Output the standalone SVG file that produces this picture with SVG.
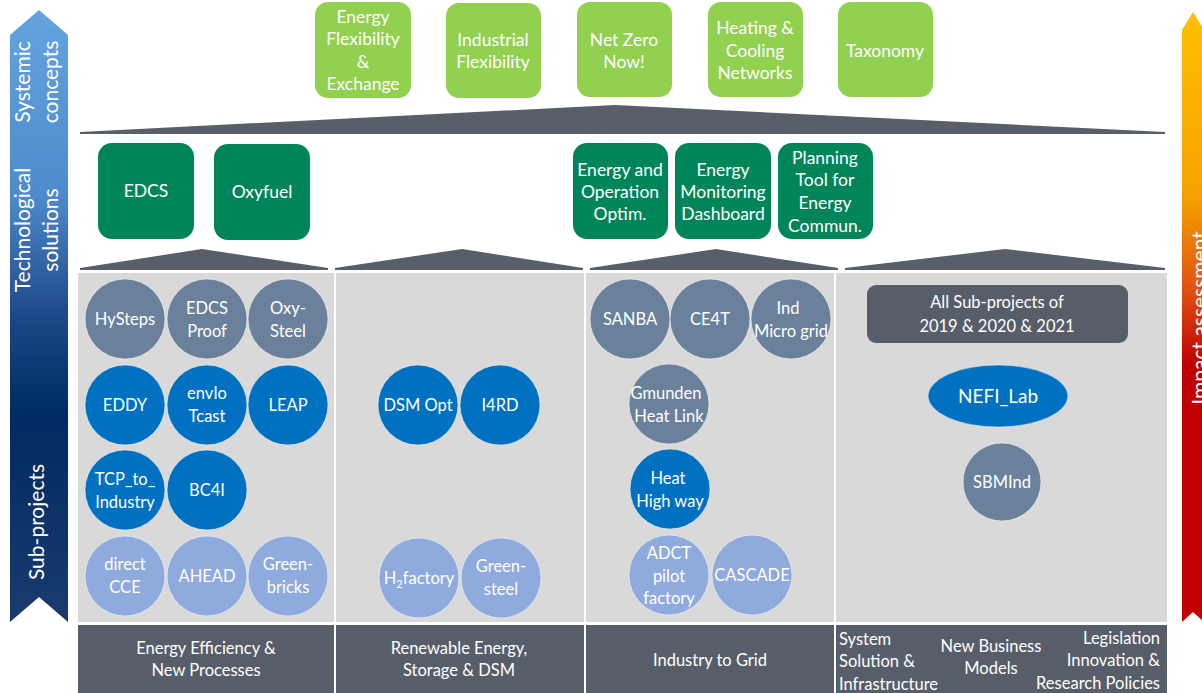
<svg xmlns="http://www.w3.org/2000/svg" width="1202" height="693" viewBox="0 0 1202 693">
  <style>
    text { font-family: Lato, "Liberation Sans", sans-serif; fill: #ffffff; text-anchor: middle; }
    .sys { fill: #92d050; }
    .tech { fill: #00855a; }
    .plat { fill: #585f69; }
    .panel { fill: #d9d9d9; }
    .bar { fill: #575e69; }
    .slate { fill: #6b819b; stroke: #ffffff; stroke-opacity: .5; stroke-width: 1; }
    .blue { fill: #0070c0; stroke: #ffffff; stroke-opacity: .5; stroke-width: 1; }
    .light { fill: #8faadc; stroke: #ffffff; stroke-opacity: .5; stroke-width: 1; }
    .t17 { font-size: 17.5px; }
    .t16 { font-size: 16.5px; }
    .side { font-size: 21px; }
    .l { text-anchor: start; }
    .r { text-anchor: end; }
  </style>
  <defs>
    <linearGradient id="gradLeft" x1="0" y1="0" x2="0" y2="1">
      <stop offset="0" stop-color="#63a4dd"/>
      <stop offset="0.3" stop-color="#4f8bcb"/>
      <stop offset="0.5" stop-color="#1d4889"/>
      <stop offset="0.66" stop-color="#002a62"/>
      <stop offset="1" stop-color="#1a3b6e"/>
    </linearGradient>
    <linearGradient id="gradRight" x1="0" y1="0" x2="0" y2="1">
      <stop offset="0" stop-color="#ffc000"/>
      <stop offset="0.3" stop-color="#f5a200"/>
      <stop offset="0.45" stop-color="#e05512"/>
      <stop offset="0.58" stop-color="#c00000"/>
      <stop offset="1" stop-color="#c00000"/>
    </linearGradient>
  </defs>

  <rect width="1202" height="693" fill="#ffffff"/>

  <!-- side arrows -->
  <g id="axis-left">
    <path d="M10,35 L39,10 L68,35 L68,622 L39,597 L10,622 Z" fill="url(#gradLeft)"/>
    <text class="side" transform="translate(30,82) rotate(-90)">Systemic</text>
    <text class="side" transform="translate(58,82) rotate(-90)">concepts</text>
    <text class="side" transform="translate(30,230) rotate(-90)">Technological</text>
    <text class="side" transform="translate(58,230) rotate(-90)">solutions</text>
    <text class="side" transform="translate(44,522) rotate(-90)">Sub-projects</text>
  </g>
  <g id="axis-right">
    <path d="M1182,30 L1193,12 L1204,30 L1204,622 L1193,612 L1182,622 Z" fill="url(#gradRight)"/>
    <text class="side" transform="translate(1207,318) rotate(-90)">Impact assessment</text>
  </g>

  <!-- platforms -->
  <g id="platforms">
    <path class="plat" d="M80,134 L80,132 L615,105 L1165,132 L1165,134 Z"/>
    <path class="plat" d="M80,270 L80,268 L202,249 L328,268 L328,270 Z"/>
    <path class="plat" d="M335,270 L335,268 L462,249 L583,268 L583,270 Z"/>
    <path class="plat" d="M590,270 L590,268 L716,249 L838,268 L838,270 Z"/>
    <path class="plat" d="M845,270 L845,268 L1005,249 L1165,268 L1165,270 Z"/>
  </g>

  <!-- column panels -->
  <g id="panels">
    <rect class="panel" x="78" y="273" width="256" height="349"/>
    <rect class="panel" x="336" y="273" width="248" height="349"/>
    <rect class="panel" x="586" y="273" width="248" height="349"/>
    <rect class="panel" x="836" y="273" width="331" height="349"/>
  </g>

  <!-- systemic concepts -->
  <g id="sys-energy-flex">
    <rect class="sys" x="315" y="2" width="96" height="96" rx="13"/>
    <text class="t17" x="363" y="23">Energy</text>
    <text class="t17" x="363" y="45">Flexibility</text>
    <text class="t17" x="363" y="68">&amp;</text>
    <text class="t17" x="363" y="90">Exchange</text>
  </g>
  <g id="sys-industrial-flex">
    <rect class="sys" x="446" y="3" width="95" height="95" rx="13"/>
    <text class="t17" x="493" y="46">Industrial</text>
    <text class="t17" x="493" y="68">Flexibility</text>
  </g>
  <g id="sys-net-zero">
    <rect class="sys" x="577" y="2" width="95" height="95" rx="13"/>
    <text class="t17" x="624" y="46">Net Zero</text>
    <text class="t17" x="624" y="68">Now!</text>
  </g>
  <g id="sys-heating-cooling">
    <rect class="sys" x="708" y="2" width="95" height="95" rx="13"/>
    <text class="t17" x="755" y="34">Heating &amp;</text>
    <text class="t17" x="755" y="57">Cooling</text>
    <text class="t17" x="755" y="79">Networks</text>
  </g>
  <g id="sys-taxonomy">
    <rect class="sys" x="838" y="2" width="95" height="95" rx="13"/>
    <text class="t17" x="885" y="57">Taxonomy</text>
  </g>

  <!-- technological solutions -->
  <g id="tech-edcs">
    <rect class="tech" x="98" y="143" width="96" height="96" rx="14"/>
    <text class="t17" x="146" y="197">EDCS</text>
  </g>
  <g id="tech-oxyfuel">
    <rect class="tech" x="214" y="144" width="96" height="96" rx="14"/>
    <text class="t17" x="262" y="198">Oxyfuel</text>
  </g>
  <g id="tech-energy-operation">
    <rect class="tech" x="573" y="143" width="95" height="96" rx="14"/>
    <text class="t17" x="620" y="176">Energy and</text>
    <text class="t17" x="620" y="198">Operation</text>
    <text class="t17" x="620" y="220">Optim.</text>
  </g>
  <g id="tech-monitoring">
    <rect class="tech" x="675" y="143" width="96" height="96" rx="14"/>
    <text class="t17" x="723" y="176">Energy</text>
    <text class="t17" x="723" y="198">Monitoring</text>
    <text class="t17" x="723" y="220">Dashboard</text>
  </g>
  <g id="tech-planning">
    <rect class="tech" x="778" y="143" width="95" height="96" rx="14"/>
    <text class="t17" x="825" y="164">Planning</text>
    <text class="t17" x="825" y="186">Tool for</text>
    <text class="t17" x="825" y="209">Energy</text>
    <text class="t17" x="825" y="232">Commun.</text>
  </g>

  <!-- sub-projects: energy efficiency & new processes -->
  <g id="sp-hysteps"><circle class="slate" cx="125" cy="319" r="40"/><text class="t16" x="125" y="325">HySteps</text></g>
  <g id="sp-edcs-proof"><circle class="slate" cx="207" cy="319" r="40"/><text class="t16" x="207" y="314">EDCS</text><text class="t16" x="207" y="337">Proof</text></g>
  <g id="sp-oxy-steel"><circle class="slate" cx="288" cy="319" r="40"/><text class="t16" x="288" y="314">Oxy-</text><text class="t16" x="288" y="337">Steel</text></g>
  <g id="sp-eddy"><circle class="blue" cx="125" cy="405" r="40"/><text class="t16" x="125" y="411">EDDY</text></g>
  <g id="sp-enviotcast"><circle class="blue" cx="207" cy="405" r="40"/><text class="t16" x="207" y="399">envIo</text><text class="t16" x="207" y="422">Tcast</text></g>
  <g id="sp-leap"><circle class="blue" cx="288" cy="405" r="40"/><text class="t16" x="288" y="411">LEAP</text></g>
  <g id="sp-tcp"><circle class="blue" cx="125" cy="490" r="40"/><text class="t16" x="125" y="485">TCP_to_</text><text class="t16" x="125" y="508">Industry</text></g>
  <g id="sp-bc4i"><circle class="blue" cx="207" cy="490" r="40"/><text class="t16" x="207" y="496">BC4I</text></g>
  <g id="sp-direct-cce"><circle class="light" cx="125" cy="576" r="40"/><text class="t16" x="125" y="570">direct</text><text class="t16" x="125" y="593">CCE</text></g>
  <g id="sp-ahead"><circle class="light" cx="207" cy="576" r="40"/><text class="t16" x="207" y="582">AHEAD</text></g>
  <g id="sp-greenbricks"><circle class="light" cx="288" cy="576" r="40"/><text class="t16" x="288" y="570">Green-</text><text class="t16" x="288" y="593">bricks</text></g>

  <!-- sub-projects: renewable energy, storage & DSM -->
  <g id="sp-dsm-opt"><circle class="blue" cx="418" cy="405" r="40"/><text class="t16" x="418" y="411">DSM Opt</text></g>
  <g id="sp-i4rd"><circle class="blue" cx="500" cy="405" r="40"/><text class="t16" x="500" y="411">I4RD</text></g>
  <g id="sp-h2factory"><circle class="light" cx="419" cy="578" r="40"/><text class="t16" x="419" y="584">H<tspan font-size="11" dy="4">2</tspan><tspan dy="-4">factory</tspan></text></g>
  <g id="sp-greensteel"><circle class="light" cx="501" cy="578" r="40"/><text class="t16" x="501" y="572">Green-</text><text class="t16" x="501" y="595">steel</text></g>

  <!-- sub-projects: industry to grid -->
  <g id="sp-sanba"><circle class="slate" cx="630" cy="319" r="40"/><text class="t16" x="630" y="325">SANBA</text></g>
  <g id="sp-ce4t"><circle class="slate" cx="710" cy="319" r="40"/><text class="t16" x="710" y="325">CE4T</text></g>
  <g id="sp-ind-microgrid"><circle class="slate" cx="791" cy="319" r="40"/><text class="t16" x="788" y="314">Ind</text><text class="t16" x="791" y="337">Micro grid</text></g>
  <g id="sp-gmunden"><circle class="slate" cx="669" cy="404" r="40"/><text class="t16" x="666" y="399">Gmunden</text><text class="t16" x="669" y="422">Heat Link</text></g>
  <g id="sp-heat-highway"><circle class="blue" cx="670" cy="489" r="40"/><text class="t16" x="668" y="484">Heat</text><text class="t16" x="670" y="507">High way</text></g>
  <g id="sp-adct"><circle class="light" cx="669" cy="575" r="40"/><text class="t16" x="669" y="559">ADCT</text><text class="t16" x="669" y="582">pilot</text><text class="t16" x="669" y="604">factory</text></g>
  <g id="sp-cascade"><circle class="light" cx="752" cy="575" r="40"/><text class="t16" x="752" y="581">CASCADE</text></g>

  <!-- sub-projects: cross-cutting -->
  <g id="sp-all">
    <rect x="867" y="285" width="261" height="58" rx="9" fill="#575e69"/>
    <text class="t16" x="997" y="308">All Sub-projects of</text>
    <text class="t16" x="997" y="332">2019 &amp; 2020 &amp; 2021</text>
  </g>
  <g id="sp-nefi-lab"><ellipse class="blue" cx="998" cy="396" rx="70" ry="31"/><text x="998" y="403" font-size="19">NEFI_Lab</text></g>
  <g id="sp-sbmind"><circle class="slate" cx="1002" cy="482" r="39"/><text class="t16" x="1002" y="488">SBMInd</text></g>

  <!-- bottom category bars -->
  <g id="cat-efficiency">
    <rect class="bar" x="78" y="625" width="256" height="68"/>
    <text class="t16" x="206" y="654">Energy Efficiency &amp;</text>
    <text class="t16" x="206" y="676">New Processes</text>
  </g>
  <g id="cat-renewable">
    <rect class="bar" x="336" y="625" width="248" height="68"/>
    <text class="t16" x="459" y="654">Renewable Energy,</text>
    <text class="t16" x="459" y="676">Storage &amp; DSM</text>
  </g>
  <g id="cat-grid">
    <rect class="bar" x="586" y="625" width="248" height="68"/>
    <text class="t16" x="710" y="666">Industry to Grid</text>
  </g>
  <g id="cat-system">
    <rect class="bar" x="836" y="625" width="331" height="68"/>
    <text class="t16 l" x="839" y="645">System</text>
    <text class="t16 l" x="839" y="667">Solution &amp;</text>
    <text class="t16 l" x="839" y="690">Infrastructure</text>
    <text class="t16" x="991" y="652">New Business</text>
    <text class="t16" x="991" y="674">Models</text>
    <text class="t16 r" x="1160" y="644">Legislation</text>
    <text class="t16 r" x="1160" y="666">Innovation &amp;</text>
    <text class="t16 r" x="1160" y="689">Research Policies</text>
  </g>
</svg>
